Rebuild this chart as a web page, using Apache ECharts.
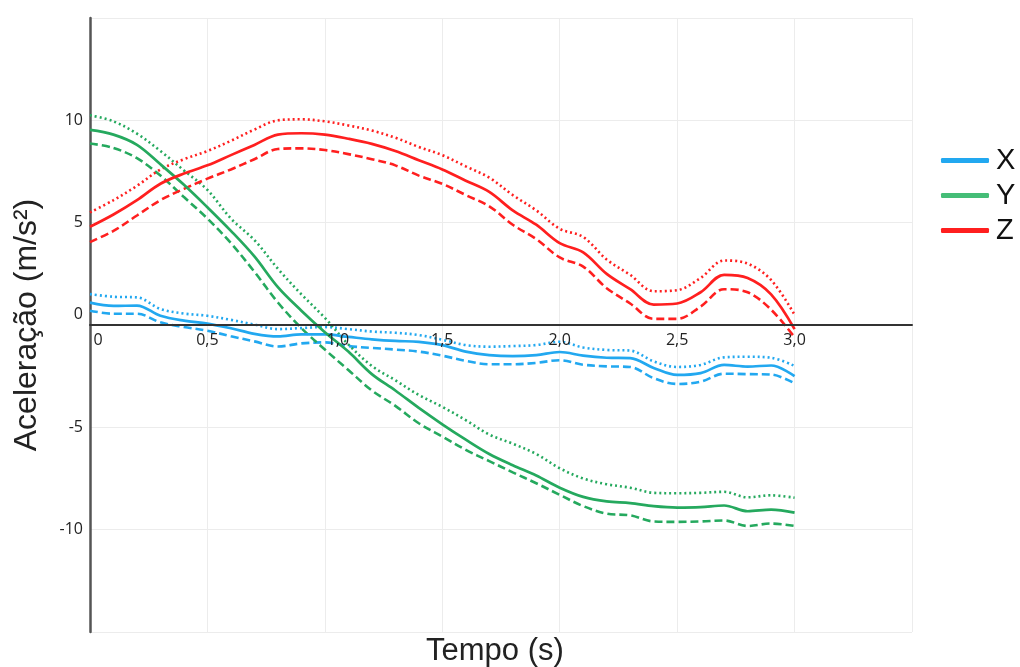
<!DOCTYPE html>
<html>
<head>
<meta charset="utf-8">
<script src="https://cdn.jsdelivr.net/npm/echarts@6/dist/echarts.min.js"></script>
<style>
  html, body { margin: 0; padding: 0; background: #fff; }
  #chart { width: 1020px; height: 667px; }
</style>
</head>
<body>
<div id="chart"></div>
<script>
// tempo (s), passo de 0,1
const tempo = [0, 0.1, 0.2, 0.3, 0.4, 0.5, 0.6, 0.7, 0.8, 0.9, 1.0, 1.1, 1.2, 1.3, 1.4, 1.5,
  1.6, 1.7, 1.8, 1.9, 2.0, 2.1, 2.2, 2.3, 2.4, 2.5, 2.6, 2.7, 2.8, 2.9, 3.0];

// eixo X (azul)
const xMedia = [1.09, 0.93, 0.95, 0.45, 0.21, 0.07, -0.16, -0.43, -0.56, -0.46, -0.46, -0.58, -0.7, -0.78, -0.82, -0.98,
  -1.3, -1.47, -1.52, -1.47, -1.32, -1.5, -1.6, -1.62, -2.1, -2.44, -2.35, -1.95, -2.03, -1.98, -2.5];
const xSup = [1.51, 1.38, 1.35, 0.78, 0.56, 0.45, 0.25, 0.02, -0.2, -0.15, -0.1, -0.2, -0.32, -0.38, -0.49, -0.72,
  -0.98, -1.06, -1.03, -0.98, -0.82, -1.1, -1.22, -1.25, -1.78, -2.05, -1.95, -1.58, -1.55, -1.6, -2.0];
const xInf = [0.7, 0.55, 0.55, 0.13, -0.1, -0.28, -0.55, -0.8, -1.05, -0.9, -0.85, -1.03, -1.12, -1.2, -1.3, -1.5,
  -1.75, -1.92, -1.92, -1.85, -1.72, -1.94, -2.02, -2.05, -2.6, -2.88, -2.77, -2.38, -2.4, -2.42, -2.85];

// eixo Y (verde)
const yMedia = [9.53, 9.3, 8.8, 7.85, 6.85, 5.75, 4.6, 3.35, 1.85, 0.7, -0.35, -1.3, -2.4, -3.2, -4.05, -4.85,
  -5.6, -6.3, -6.85, -7.35, -7.95, -8.4, -8.62, -8.7, -8.85, -8.92, -8.9, -8.82, -9.1, -9.02, -9.17];
const ySup = [10.25, 9.95, 9.35, 8.5, 7.55, 6.6, 5.2, 4.15, 2.75, 1.5, 0.35, -0.95, -2.0, -2.7, -3.42, -4.0,
  -4.65, -5.35, -5.8, -6.3, -7.0, -7.5, -7.78, -7.95, -8.2, -8.22, -8.2, -8.15, -8.42, -8.32, -8.44];
const yInf = [8.87, 8.65, 8.15, 7.3, 6.25, 5.2, 4.0, 2.6, 1.1, -0.15, -1.2, -2.2, -3.2, -3.95, -4.8, -5.45,
  -6.1, -6.65, -7.2, -7.73, -8.3, -8.85, -9.22, -9.3, -9.6, -9.62, -9.6, -9.55, -9.82, -9.7, -9.82];

// eixo Z (vermelho)
const zMedia = [4.8, 5.4, 6.1, 6.9, 7.4, 7.8, 8.3, 8.8, 9.3, 9.37, 9.3, 9.1, 8.85, 8.5, 8.05, 7.6,
  7.05, 6.5, 5.6, 4.9, 4.0, 3.55, 2.5, 1.75, 1.0, 1.05, 1.6, 2.45, 2.3, 1.5, -0.2];
const zSup = [5.5, 6.1, 6.8, 7.6, 8.1, 8.5, 9.0, 9.55, 10.0, 10.05, 9.95, 9.75, 9.5, 9.15, 8.7, 8.3,
  7.75, 7.2, 6.35, 5.6, 4.7, 4.3, 3.2, 2.45, 1.65, 1.7, 2.3, 3.15, 3.0, 2.2, 0.5];
const zInf = [4.05, 4.6, 5.35, 6.1, 6.65, 7.15, 7.6, 8.1, 8.6, 8.63, 8.55, 8.35, 8.1, 7.8, 7.3, 6.9,
  6.35, 5.8, 4.9, 4.2, 3.3, 2.85, 1.8, 1.05, 0.3, 0.3, 0.9, 1.75, 1.6, 0.75, -0.6];

const AZUL = '#22a8f0';
const VERDE = '#25a95e';
const VERMELHO = '#ff1f1f';

function pares(vals) {
  return tempo.map((t, i) => [t, vals[i]]);
}

// uma curva: solida = media, pontilhada = superior, tracejada = inferior
function curva(nome, cor, vals, estilo) {
  let tipo = 'solid';
  if (estilo === 'sup') tipo = [2, 3];
  if (estilo === 'inf') tipo = [8, 4];
  return {
    type: 'line',
    name: nome,
    data: pares(vals),
    smooth: 0.35,
    showSymbol: false,
    symbol: 'none',
    lineStyle: { color: cor, width: estilo === 'media' ? 2.7 : 2.6, type: tipo },
    itemStyle: { color: cor },
    z: estilo === 'media' ? 3 : 2,
  };
}

const labelFont = { fontFamily: 'Open Sans', fontSize: 16, color: '#222' };

const myChart = echarts.init(document.getElementById('chart'));

myChart.setOption({
  animation: false,
  backgroundColor: '#fff',
  grid: {
    left: 90,
    top: 18,
    right: 108,
    bottom: 35,
  },
  legend: {
    orient: 'vertical',
    left: 936,
    top: 141,
    icon: 'roundRect',
    itemWidth: 48,
    itemHeight: 5,
    itemGap: 6,
    textStyle: {
      fontFamily: 'Liberation Sans',
      fontSize: 29,
      color: '#111',
      lineHeight: 27,
      padding: [0, 0, 0, 2],
    },
    data: [
      { name: 'X', itemStyle: { color: AZUL } },
      { name: 'Y', itemStyle: { color: '#45bd77' } },
      { name: 'Z', itemStyle: { color: VERMELHO } },
    ],
  },
  xAxis: [
    {
      // eixo com linha e rotulos na altura do zero, desenhado por cima das curvas
      type: 'value',
      min: 0,
      max: 3.5,
      interval: 0.5,
      z: 10,
      offset: -307,
      axisLine: {
        onZero: false,
        lineStyle: { color: '#333', width: 2 },
      },
      axisTick: { show: false },
      axisLabel: Object.assign({
        margin: 7,
        formatter: function (v) {
          if (v > 3.01) return '';
          if (v === 0) return '{z|0}';
          if (v === 1) return '{u|1,0}';
          return v.toFixed(1).replace('.', ',');
        },
        rich: {
          z: Object.assign({ padding: [0, 0, 0, 16] }, labelFont),
          u: Object.assign({ padding: [0, 0, 0, 26] }, labelFont),
        },
      }, labelFont),
      splitLine: { show: false },
    },
    {
      // so as linhas verticais da grade, por baixo das curvas
      type: 'value',
      min: 0,
      max: 3.5,
      interval: 0.5,
      z: 0,
      axisLine: { show: false },
      axisTick: { show: false },
      axisLabel: { show: false },
      splitLine: { show: true, showMinLine: false, lineStyle: { color: '#ececec', width: 1 } },
    },
  ],
  yAxis: {
    type: 'value',
    min: -15,
    max: 15,
    interval: 5,
    name: 'Aceleração (m/s²)',
    nameLocation: 'middle',
    nameRotate: 90,
    nameGap: 47,
    nameTextStyle: {
      fontFamily: 'Liberation Sans',
      fontSize: 32,
      color: '#222',
    },
    axisLine: {
      show: true,
      onZero: false,
      lineStyle: { color: '#555', width: 2.5 },
    },
    axisTick: { show: false },
    axisLabel: Object.assign({
      margin: 7,
      formatter: function (v) {
        if (Math.abs(v) === 15) return '';
        if (v === 0) return '{z|0}';
        return String(v);
      },
      rich: {
        z: Object.assign({ padding: [0, 0, 22, 0] }, labelFont),
      },
    }, labelFont),
    splitLine: { show: true, lineStyle: { color: '#ececec', width: 1 } },
  },
  graphic: [
    {
      type: 'text',
      left: 426,
      top: 636,
      style: {
        text: 'Tempo (s)',
        fontFamily: 'Liberation Sans',
        fontSize: 31,
        fill: '#222',
      },
    },
  ],
  series: [
    curva('X', AZUL, xMedia, 'media'),
    curva('X sup', AZUL, xSup, 'sup'),
    curva('X inf', AZUL, xInf, 'inf'),
    curva('Y', VERDE, yMedia, 'media'),
    curva('Y sup', VERDE, ySup, 'sup'),
    curva('Y inf', VERDE, yInf, 'inf'),
    curva('Z', VERMELHO, zMedia, 'media'),
    curva('Z sup', VERMELHO, zSup, 'sup'),
    curva('Z inf', VERMELHO, zInf, 'inf'),
  ],
});
</script>
</body>
</html>
